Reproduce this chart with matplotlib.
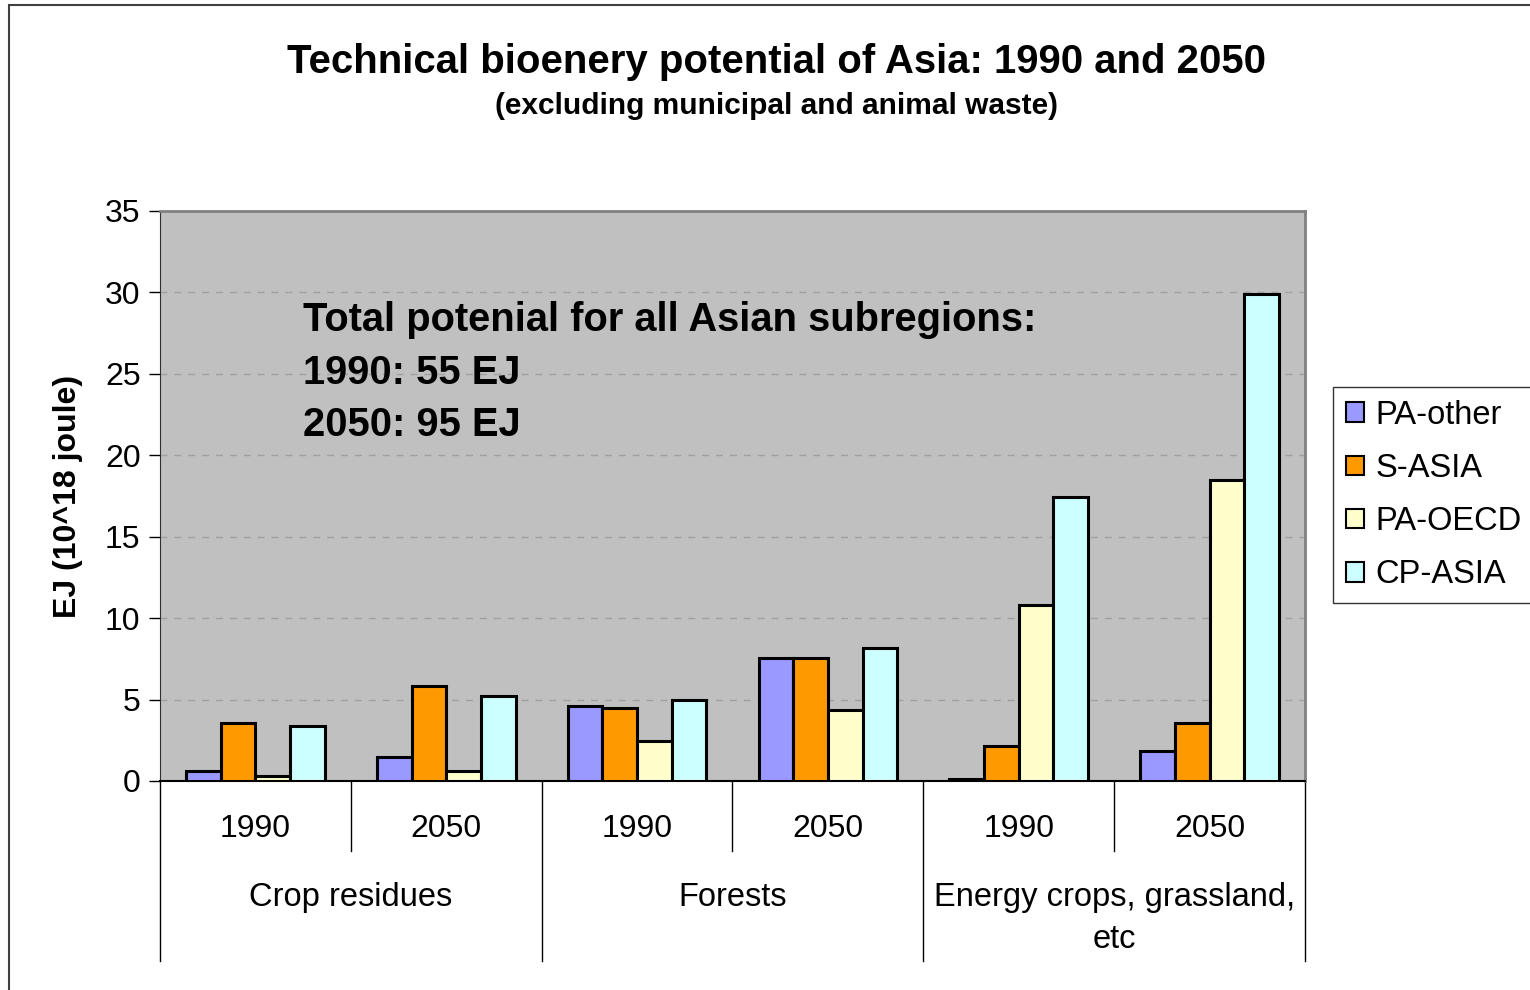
import numpy as np
import matplotlib
matplotlib.use('Agg')
import matplotlib.pyplot as plt
from matplotlib.patches import Rectangle
from matplotlib.lines import Line2D

plt.rcParams['font.family'] = ['Liberation Sans', 'DejaVu Sans']

# data (EJ)
groups = ['Crop residues', 'Forests', 'Energy crops, grassland,\netc']
years = ['1990', '2050']
regions = ['PA-other', 'S-ASIA', 'PA-OECD', 'CP-ASIA']
colors = ['#9999FF', '#FF9900', '#FFFFCC', '#CCFFFF']

pa_other = [0.6, 1.5, 4.6, 7.55, 0.15, 1.85]
s_asia = [3.55, 5.85, 4.5, 7.55, 2.15, 3.55]
pa_oecd = [0.3, 0.6, 2.45, 4.35, 10.8, 18.5]
cp_asia = [3.4, 5.25, 4.95, 8.15, 17.45, 29.9]
series = [pa_other, s_asia, pa_oecd, cp_asia]

#%%
fig = plt.figure(figsize=(15.3, 9.9), dpi=100)
ax = fig.add_axes([160/1530, 1 - 781/990, 1145/1530, 570/990])
ax.set_facecolor('#C0C0C0')

x = np.arange(len(pa_other))
w = 1 / 5.5
for k, (vals, c, name) in enumerate(zip(series, colors, regions)):
    ax.bar(x + (k - 1.5) * w, vals, width=w, color=c, edgecolor='black',
           linewidth=2.2, label=name, zorder=3)

ax.set_xlim(-0.5, len(x) - 0.5)
ax.set_ylim(0, 35)
ax.set_yticks(np.arange(0, 36, 5))
ax.tick_params(axis='y', labelsize=23, length=8, width=1, pad=6)
ax.set_xticks([])
ax.yaxis.grid(True, linestyle=(0, (5, 5)), color='#A0A0A0', linewidth=1, zorder=0)
ax.set_axisbelow(True)
for side in ['top', 'right']:
    ax.spines[side].set_color('#808080')
    ax.spines[side].set_linewidth(2)
ax.spines['left'].set_color('#303030')
ax.spines['bottom'].set_color('black')
ax.spines['bottom'].set_linewidth(1.5)

ax.set_ylabel('EJ (10^18 joule)', fontsize=23, fontweight='bold', labelpad=16)

# category axis: year labels, group labels and separators
tr = ax.get_xaxis_transform()
for i in range(len(x)):
    ax.text(x[i], -0.085, years[i % 2], transform=tr, ha='center', va='center',
            fontsize=23, clip_on=False)
for g, name in enumerate(groups):
    ax.text(2 * g + 0.5, -0.178, name, transform=tr, ha='center', va='top',
            fontsize=23.5, linespacing=1.43, clip_on=False)
for b in np.arange(0.5, len(x) - 0.5, 2):
    ax.add_line(Line2D([b, b], [0, -0.123], transform=tr, color='black',
                       linewidth=1, clip_on=False))
for b in np.arange(-0.5, len(x), 2):
    ax.add_line(Line2D([b, b], [0, -0.316], transform=tr, color='black',
                       linewidth=1, clip_on=False))

ax.text(0.125, 0.716, 'Total potenial for all Asian subregions:\n1990: 55 EJ\n2050: 95 EJ',
        transform=ax.transAxes, ha='left', va='center', fontsize=28.7,
        fontweight='bold', linespacing=1.48, zorder=4)

fig.text(0.5075, 1 - 62/990, 'Technical bioenery potential of Asia: 1990 and 2050',
         ha='center', va='center', fontsize=28.9, fontweight='bold')
fig.text(0.5075, 1 - 106/990, '(excluding municipal and animal waste)',
         ha='center', va='center', fontsize=21.5, fontweight='bold')

leg = fig.legend(loc='center left', bbox_to_anchor=(1333/1530, 1 - 495/990),
                 fontsize=23.5, frameon=True, fancybox=False, edgecolor='black',
                 handlelength=0.55, handleheight=0.55, handletextpad=0.35,
                 labelspacing=0.68, borderpad=0.4, borderaxespad=0)
leg.get_frame().set_linewidth(1)
for h in leg.legend_handles:
    h.set_linewidth(1.5)

# chart area border
fig.patches.append(Rectangle((9/1530, -0.1), 1.2, 1.1 - 5/990, transform=fig.transFigure,
                             fill=False, edgecolor='#404040', linewidth=1.5))

fig.savefig('out.png', dpi=100)
